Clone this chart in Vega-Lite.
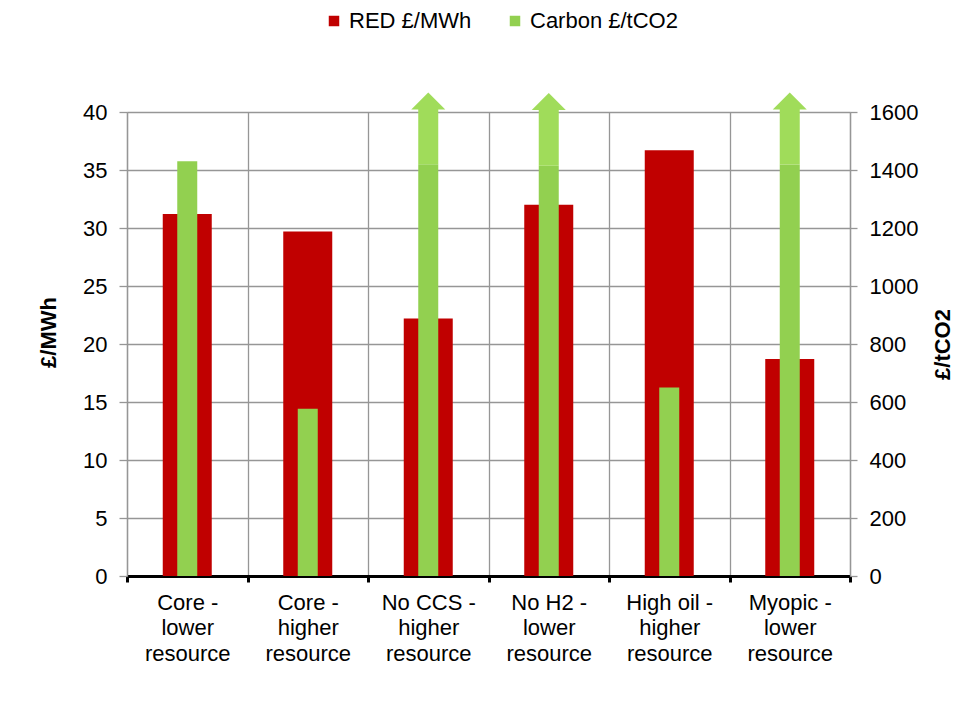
{
  "$schema": "https://vega.github.io/schema/vega-lite/v6.json",
  "autosize": "none",
  "width": 723,
  "height": 464,
  "padding": {"left": 127, "top": 112, "right": 120, "bottom": 144},
  "background": "white",
  "config": {
    "view": {"stroke": null},
    "font": "Liberation Sans",
    "axis": {"labelColor": "black", "titleColor": "black", "labelFont": "Liberation Sans", "titleFont": "Liberation Sans"},
    "axisRight": {
      "title": "£/tCO2", "titleFontSize": 22, "titleFontWeight": "bold",
      "titleAngle": 270, "titleBaseline": "top", "titlePadding": 15,
      "grid": false, "format": "d",
      "domainColor": "#969696", "domainWidth": 1.3, "tickColor": "#969696", "tickWidth": 1.3, "tickSize": 7,
      "labelFontSize": 22, "labelPadding": 12
    }
  },
  "datasets": {
    "red": [
      {"scenario": "Core - lower resource", "value": 31.2},
      {"scenario": "Core - higher resource", "value": 29.7},
      {"scenario": "No CCS - higher resource", "value": 22.2},
      {"scenario": "No H2 - lower resource", "value": 32.0},
      {"scenario": "High oil - higher resource", "value": 36.7},
      {"scenario": "Myopic - lower resource", "value": 18.7}
    ],
    "green": [
      {"scenario": "Core - lower resource", "value": 1430},
      {"scenario": "Core - higher resource", "value": 577},
      {"scenario": "No CCS - higher resource", "value": 1420},
      {"scenario": "No H2 - lower resource", "value": 1415},
      {"scenario": "High oil - higher resource", "value": 650},
      {"scenario": "Myopic - lower resource", "value": 1419}
    ],
    "over": [
      {"scenario": "No CCS - higher resource", "from": 1420, "to": 1610, "arrow": 1638},
      {"scenario": "No H2 - lower resource", "from": 1415, "to": 1610, "arrow": 1636},
      {"scenario": "Myopic - lower resource", "from": 1419, "to": 1610, "arrow": 1638}
    ]
  },
  "layer": [
    {
      "data": {"name": "red"},
      "mark": {"type": "bar", "size": 49, "color": "#C00000"},
      "encoding": {
        "x": {
          "field": "scenario", "type": "nominal",
          "scale": {"domain": ["Core - lower resource", "Core - higher resource", "No CCS - higher resource", "No H2 - lower resource", "High oil - higher resource", "Myopic - lower resource"], "paddingInner": 0, "paddingOuter": 0},
          "axis": {
            "title": null, "tickBand": "extent", "grid": true, "gridColor": "#969696", "gridWidth": 1.3,
            "domainColor": "black", "domainWidth": 3, "tickColor": "black", "tickWidth": 3, "tickSize": 6,
            "labelAngle": 0, "labelFontSize": 22, "labelLineHeight": 25.5, "labelPadding": 10, "labelBaseline": "top",
            "labelExpr": "datum.label && indexof(datum.label, ' - ') >= 0 ? [split(datum.label, ' - ')[0] + ' -', split(split(datum.label, ' - ')[1], ' ')[0], split(split(datum.label, ' - ')[1], ' ')[1]] : ''"
          }
        },
        "y": {
          "field": "value", "type": "quantitative",
          "scale": {"domain": [0, 40], "nice": false},
          "axis": {
            "orient": "left", "title": "£/MWh", "titleFontSize": 22, "titleFontWeight": "bold", "titlePadding": 22, "titleY": 220,
            "values": [0, 5, 10, 15, 20, 25, 30, 35, 40], "grid": true, "gridColor": "#969696", "gridWidth": 1.3,
            "domainColor": "#969696", "domainWidth": 1.3, "tickColor": "#969696", "tickWidth": 1.3, "tickSize": 8,
            "labelFontSize": 22, "labelPadding": 12
          }
        },
        "color": {
          "datum": "RED £/MWh", "type": "nominal",
          "scale": {"domain": ["RED £/MWh", "Carbon £/tCO2"], "range": ["#C00000", "#92D050"]},
          "legend": {
            "orient": "none", "legendX": 196, "legendY": -102, "direction": "horizontal", "title": null,
            "symbolType": "square", "symbolSize": 110, "symbolStrokeWidth": 0, "labelFontSize": 22,
            "labelColor": "black", "labelFont": "Liberation Sans", "columnPadding": 32, "labelOffset": 4
          }
        }
      }
    },
    {
      "layer": [
        {
          "data": {"name": "green"},
          "mark": {"type": "bar", "size": 20},
          "encoding": {
            "x": {"field": "scenario", "type": "nominal"},
            "y": {
              "field": "value", "type": "quantitative", "title": "£/tCO2",
              "scale": {"domain": [0, 1600], "nice": false},
              "axis": {"orient": "right", "format": "d", "values": [0, 200, 400, 600, 800, 1000, 1200, 1400, 1600]}
            },
            "color": {"datum": "Carbon £/tCO2", "type": "nominal"}
          }
        },
        {
          "data": {"name": "over"},
          "mark": {"type": "bar", "size": 20, "color": "#A0DC5A"},
          "encoding": {
            "x": {"field": "scenario", "type": "nominal"},
            "y": {
              "field": "from", "type": "quantitative", "title": "£/tCO2",
              "scale": {"domain": [0, 1600], "nice": false},
              "axis": {"orient": "right", "format": "d", "values": [0, 200, 400, 600, 800, 1000, 1200, 1400, 1600]}
            },
            "y2": {"field": "to"}
          }
        },
        {
          "data": {"name": "over"},
          "mark": {"type": "point", "shape": "M-1,0.5L0,-0.5L1,0.5Z", "size": 1156, "filled": true, "color": "#A0DC5A", "opacity": 1},
          "encoding": {
            "x": {"field": "scenario", "type": "nominal"},
            "y": {
              "field": "arrow", "type": "quantitative", "title": "£/tCO2",
              "scale": {"domain": [0, 1600], "nice": false},
              "axis": {"orient": "right", "format": "d", "values": [0, 200, 400, 600, 800, 1000, 1200, 1400, 1600]}
            }
          }
        }
      ]
    }
  ],
  "resolve": {"scale": {"y": "independent"}}
}
